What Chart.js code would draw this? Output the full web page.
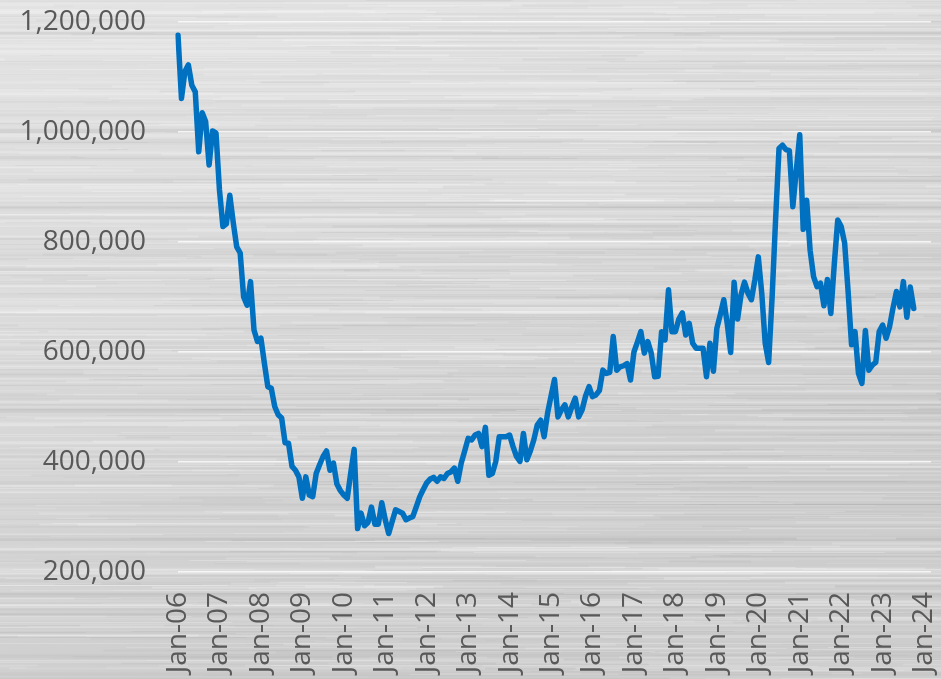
<!DOCTYPE html>
<html>
<head>
<meta charset="utf-8">
<script src="https://cdn.jsdelivr.net/npm/chart.js@4"></script>
<style>
  html, body { margin: 0; padding: 0; overflow: hidden; background: #d8d8d8; }
  #wrap { width: 941px; height: 679px; position: relative; }
</style>
</head>
<body>
<div id="wrap"><canvas id="chart"></canvas></div>
<script>
// axis categories: one label per month, Jan-06 .. Mar-24
const monthNames = ['Jan', 'Feb', 'Mar', 'Apr', 'May', 'Jun', 'Jul', 'Aug', 'Sep', 'Oct', 'Nov', 'Dec'];
const years = ['06', '07', '08', '09', '10', '11', '12', '13', '14', '15', '16', '17', '18', '19', '20', '21', '22', '23', '24'];
const lastMonthOfAxis = 2; // Mar-24

// y axis ticks
const yTicks = [200000, 400000, 600000, 800000, 1000000, 1200000];

// monthly series, Jan-06 .. Oct-23 (one row per year)
const monthlyValues = [
  1176000, 1061000, 1110000, 1122000, 1085000, 1073000, 964000, 1035000, 1019000, 940000, 1002000, 998000,
  895000, 828000, 833000, 885000, 835000, 791000, 780000, 700000, 685000, 728000, 640000, 619000,
  625000, 580000, 537000, 534000, 501000, 486000, 480000, 435000, 434000, 392000, 385000, 373000,
  334000, 373000, 340000, 337000, 379000, 395000, 410000, 420000, 385000, 398000, 360000, 348000,
  340000, 334000, 380000, 423000, 279000, 307000, 284000, 290000, 318000, 287000, 287000, 326000,
  295000, 270000, 292000, 313000, 310000, 307000, 295000, 298000, 301000, 319000, 337000, 350000,
  362000, 369000, 372000, 365000, 373000, 370000, 379000, 382000, 389000, 365000, 398000, 420000,
  443000, 440000, 449000, 452000, 428000, 463000, 376000, 379000, 401000, 446000, 446000, 446000,
  449000, 428000, 410000, 401000, 452000, 404000, 420000, 440000, 467000, 476000, 446000, 489000,
  520000, 550000, 482000, 495000, 504000, 482000, 500000, 516000, 482000, 495000, 520000, 537000,
  519000, 522000, 530000, 567000, 561000, 563000, 628000, 567000, 573000, 575000, 579000, 549000,
  600000, 618000, 637000, 598000, 619000, 598000, 555000, 556000, 637000, 622000, 713000, 637000,
  637000, 660000, 671000, 631000, 652000, 616000, 607000, 607000, 607000, 555000, 616000, 565000,
  643000, 668000, 695000, 652000, 599000, 727000, 660000, 704000, 727000, 707000, 695000, 731000,
  773000, 707000, 616000, 581000, 700000, 840000, 970000, 976000, 968000, 966000, 864000, 930000,
  995000, 823000, 876000, 785000, 737000, 719000, 725000, 684000, 732000, 670000, 760000, 840000,
  828000, 798000, 710000, 613000, 637000, 561000, 543000, 639000, 567000, 576000, 581000, 637000,
  649000, 625000, 646000, 680000, 710000, 682000, 728000, 663000, 718000, 679000
];

const labels = [];
years.forEach((yy, yi) => {
  monthNames.forEach((m, mi) => {
    if (yi === years.length - 1 && mi > lastMonthOfAxis) return;
    labels.push(m + '-' + yy);
  });
});

// brushed metal backdrop, drawn once to an offscreen canvas
function buildBrushed(w, h) {
  const raw = document.createElement('canvas');
  raw.width = w; raw.height = h;
  const g = raw.getContext('2d');
  const grad = g.createLinearGradient(0, 0, w * 0.25, h);
  grad.addColorStop(0, '#e3e3e3');
  grad.addColorStop(0.5, '#d9d9d9');
  grad.addColorStop(1, '#cdcdcd');
  g.fillStyle = grad;
  g.fillRect(0, 0, w, h);

  let seed = 987654;
  const rnd = () => { seed = (seed * 1103515245 + 12345) % 2147483648; return seed / 2147483648; };

  // full-width soft bands
  for (let i = 0; i < 220; i++) {
    const y = rnd() * h;
    g.fillStyle = rnd() < 0.55
      ? 'rgba(255,255,255,' + (0.06 + rnd() * 0.14) + ')'
      : 'rgba(140,140,140,' + (0.03 + rnd() * 0.06) + ')';
    g.fillRect(0, y, w, 1 + rnd() * 3);
  }
  // shorter streaks
  for (let i = 0; i < 1400; i++) {
    const y = Math.floor(rnd() * h) + 0.5;
    const x = rnd() * w - 100;
    const len = 80 + rnd() * 420;
    const light = rnd() < 0.6;
    g.strokeStyle = light
      ? 'rgba(255,255,255,' + (0.06 + rnd() * 0.18) + ')'
      : 'rgba(140,140,140,' + (0.03 + rnd() * 0.07) + ')';
    g.lineWidth = rnd() < 0.6 ? 1 : 2;
    g.beginPath();
    g.moveTo(x, y);
    g.lineTo(x + len, y);
    g.stroke();
  }

  const c = document.createElement('canvas');
  c.width = w; c.height = h;
  const cg = c.getContext('2d');
  cg.fillStyle = '#d8d8d8';
  cg.fillRect(0, 0, w, h);
  cg.filter = 'blur(0.7px)';
  cg.drawImage(raw, 0, 0);
  return c;
}

let backdrop = null;
const brushedBackground = {
  id: 'brushedBackground',
  beforeDraw(chart) {
    const { ctx, width, height } = chart;
    if (!backdrop || backdrop.width !== width || backdrop.height !== height) {
      backdrop = buildBrushed(width, height);
    }
    ctx.save();
    ctx.drawImage(backdrop, 0, 0);
    ctx.restore();
  }
};

Chart.defaults.font.family = "'Open Sans', sans-serif";
Chart.defaults.font.size = 28;
Chart.defaults.color = '#595959';

new Chart(document.getElementById('chart'), {
  type: 'line',
  data: {
    labels: labels,
    datasets: [{
      data: monthlyValues,
      borderColor: '#0070c0',
      borderWidth: 5.5,
      borderJoinStyle: 'round',
      borderCapStyle: 'round',
      pointRadius: 0,
      tension: 0,
      fill: false
    }]
  },
  options: {
    responsive: true,
    maintainAspectRatio: false,
    animation: false,
    layout: { padding: { top: 22, right: 10, left: 18, bottom: 0 } },
    plugins: {
      legend: { display: false },
      tooltip: { enabled: false }
    },
    scales: {
      x: {
        afterFit: (scale) => {
          scale.height = 107;
          scale.paddingLeft = 0;
          scale.paddingRight = 0;
        },
        grid: { display: false, drawTicks: false },
        border: { display: false },
        ticks: {
          autoSkip: false,
          minRotation: 90,
          maxRotation: 90,
          padding: 20,
          callback: function (value) {
            const l = this.getLabelForValue(value);
            return l.startsWith('Jan') ? l : '';
          }
        }
      },
      y: {
        min: 200000,
        max: 1200000,
        afterBuildTicks: (scale) => { scale.ticks = yTicks.map(v => ({ value: v })); },
        afterFit: (scale) => {
          scale.width = 160;
          scale.paddingTop = 0;
          scale.paddingBottom = 0;
        },
        grid: { color: 'rgba(255,255,255,0.75)', lineWidth: 1.5, drawTicks: false },
        border: { display: false },
        ticks: {
          padding: 32,
          callback: (v) => v.toLocaleString('en-US')
        }
      }
    }
  },
  plugins: [brushedBackground]
});
</script>
</body>
</html>
